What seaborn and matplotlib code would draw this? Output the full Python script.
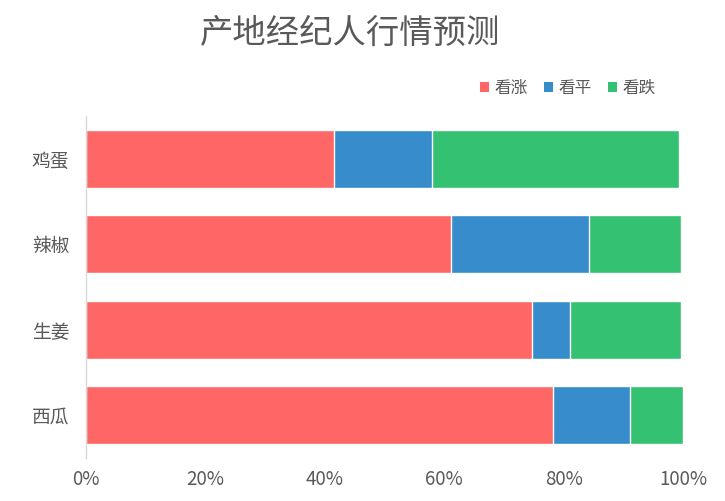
import matplotlib
matplotlib.use("Agg")
import matplotlib.pyplot as plt
import seaborn as sns
import pandas as pd
from matplotlib.ticker import PercentFormatter
from matplotlib.patches import Patch
# %% data
categories = ["鸡蛋", "辣椒", "生姜", "西瓜"]
rise = [41.5, 61.2, 74.7, 78.2]   # 看涨
flat = [16.5, 23.1, 6.3, 13.0]    # 看平
fall = [41.4, 15.4, 18.7, 8.8]    # 看跌
seriesNames = ["看涨", "看平", "看跌"]
colors = ["#FF6666", "#378CCB", "#35C172"]
# %% stack
df = pd.DataFrame({"cat": categories, "rise": rise, "flat": flat, "fall": fall})
df["c1"] = df["rise"]
df["c2"] = df["rise"] + df["flat"]
df["c3"] = df["c2"] + df["fall"]
# %% plot
sns.set_theme(style="white")
plt.rcParams["font.family"] = ["Noto Sans CJK SC", "DejaVu Sans"]
fig = plt.figure(figsize=(7.25, 5.01), dpi=100)
ax = fig.add_axes([86/725, 1-458/501, (683-86)/725, (458-116)/501])
for col, c in zip(["c3", "c2", "c1"], colors[::-1]):
    sns.barplot(data=df, x=col, y="cat", orient="h", color=c, width=0.68,
                edgecolor="white", linewidth=1, saturation=1, ax=ax)
ax.set_xlim(0, 100)
ax.set_ylim(3.5, -0.5)
ax.xaxis.set_major_formatter(PercentFormatter(decimals=0))
ax.set_xticks([0, 20, 40, 60, 80, 100])
ax.set_xlabel("")
ax.set_ylabel("")
for s in ["top", "right", "bottom"]:
    ax.spines[s].set_visible(False)
ax.spines["left"].set_color("#D9D9D9")
ax.spines["left"].set_linewidth(1)
ax.tick_params(axis="both", length=0, labelsize=13.5, labelcolor="#595959")
ax.tick_params(axis="x", pad=8)
ax.tick_params(axis="y", pad=12)
fig.text(350/725, 1-33/501, "产地经纪人行情预测", ha="center", va="center",
         fontsize=24, color="#595959")
handles = [Patch(facecolor=c, edgecolor="none", label=n) for c, n in zip(colors, seriesNames)]
fig.legend(handles=handles, loc="center right", bbox_to_anchor=(664/725, 1-88/501), ncol=3,
           frameon=False, fontsize=12, handlelength=0.55, handleheight=0.55,
           handletextpad=0.3, columnspacing=1.0, labelcolor="#595959", borderpad=0)
fig.savefig("out.png", dpi=100)
plt.close()
